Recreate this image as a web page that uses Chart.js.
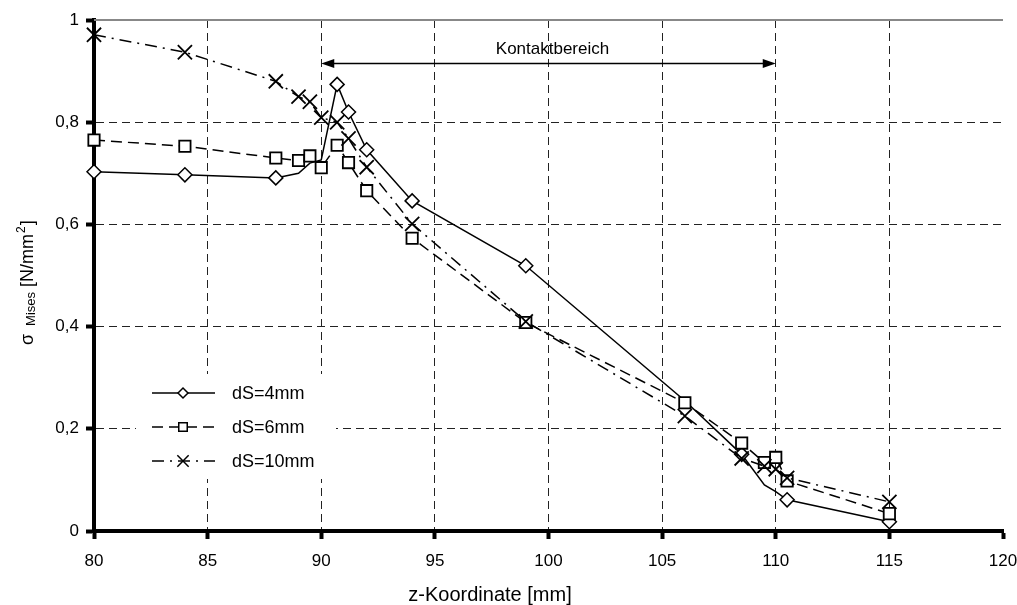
<!DOCTYPE html>
<html>
<head>
<meta charset="utf-8">
<script src="https://cdn.jsdelivr.net/npm/chart.js@4.4.1/dist/chart.umd.min.js"></script>
<style>
html, body { margin: 0; padding: 0; background: #fff; }
</style>
</head>
<body>
<canvas id="chart" width="1017" height="605"></canvas>
<script>
'use strict';

const FONT = '"Liberation Sans", Arial, sans-serif';

// data
const seriesNames = ['dS=4mm', 'dS=6mm', 'dS=10mm'];
const zValues = [80, 84, 88, 89, 89.5, 90, 90.7, 91.2, 92, 94, 99, 106, 108.5, 109.5, 110, 110.5, 115];

const ds4Values = [0.703, 0.697, 0.691, 0.700, 0.720, 0.726, 0.874, 0.820, 0.746, 0.646, 0.519, 0.255, 0.150, 0.090, 0.077, 0.061, 0.018];
const ds4Marked = [1, 1, 1, 0, 0, 0, 1, 1, 1, 1, 1, 0, 1, 0, 0, 1, 1];

const ds6Values = [0.765, 0.753, 0.730, 0.725, 0.734, 0.711, 0.755, 0.721, 0.666, 0.573, 0.408, 0.251, 0.172, 0.134, 0.144, 0.098, 0.034];

const ds10Values = [0.971, 0.937, 0.880, 0.850, 0.840, 0.809, 0.800, 0.768, 0.712, 0.601, 0.410, 0.225, 0.142, 0.127, 0.121, 0.104, 0.057];

const yTickLabels = ['0', '0,2', '0,4', '0,6', '0,8', '1'];

const contactRange = [90, 110];
const contactLevel = 0.916;
const contactText = 'Kontaktbereich';


function toPoints(values) {
  return values.map((v, i) => ({ x: zValues[i], y: v }));
}

const lineStyles = [
  { dash: [], pointStyle: 'rectRot', radius: 7 },
  { dash: [11, 6], pointStyle: 'rect', radius: 8 },
  { dash: [12, 6, 2, 6], pointStyle: 'crossRot', radius: 10 }
];

const datasets = [
  {
    label: seriesNames[0],
    data: toPoints(ds4Values),
    borderColor: '#000',
    borderWidth: 1.5,
    borderDash: lineStyles[0].dash,
    pointStyle: lineStyles[0].pointStyle,
    pointRadius: ds4Marked.map(m => m ? lineStyles[0].radius : 0),
    pointBackgroundColor: '#fff',
    pointBorderColor: '#000',
    pointBorderWidth: 1.5,
    tension: 0,
    clip: false,
    order: 3
  },
  {
    label: seriesNames[1],
    data: toPoints(ds6Values),
    borderColor: '#000',
    borderWidth: 1.5,
    borderDash: lineStyles[1].dash,
    pointStyle: lineStyles[1].pointStyle,
    pointRadius: lineStyles[1].radius,
    pointBackgroundColor: '#fff',
    pointBorderColor: '#000',
    pointBorderWidth: 1.8,
    tension: 0,
    clip: false,
    order: 2
  },
  {
    label: seriesNames[2],
    data: toPoints(ds10Values),
    borderColor: '#000',
    borderWidth: 1.5,
    borderDash: lineStyles[2].dash,
    pointStyle: lineStyles[2].pointStyle,
    pointRadius: lineStyles[2].radius,
    pointBackgroundColor: '#fff',
    pointBorderColor: '#000',
    pointBorderWidth: 1.8,
    tension: 0,
    clip: false,
    order: 1
  }
];


// white page, solid top line, arrow + text, legend, axis titles
const decorPlugin = {
  id: 'decor',
  beforeDraw(chart) {
    const ctx = chart.ctx;
    ctx.save();
    ctx.fillStyle = '#fff';
    ctx.fillRect(0, 0, chart.width, chart.height);
    ctx.restore();
  },
  beforeDatasetsDraw(chart) {
    const ctx = chart.ctx;
    const a = chart.chartArea;
    const y1 = chart.scales.y.getPixelForValue(1);
    ctx.save();
    ctx.strokeStyle = '#888';
    ctx.lineWidth = 2;
    ctx.beginPath();
    ctx.moveTo(a.left, y1);
    ctx.lineTo(a.right, y1);
    ctx.stroke();
    ctx.restore();
  },
  afterDraw(chart) {
    const ctx = chart.ctx;
    const xs = chart.scales.x;
    const ys = chart.scales.y;

    // contact range arrow
    const xa = xs.getPixelForValue(contactRange[0]);
    const xb = xs.getPixelForValue(contactRange[1]);
    const ya = Math.round(ys.getPixelForValue(contactLevel)) + 0.5;
    ctx.save();
    ctx.strokeStyle = '#000';
    ctx.fillStyle = '#000';
    ctx.lineWidth = 1.5;
    ctx.beginPath();
    ctx.moveTo(xa + 8, ya);
    ctx.lineTo(xb - 8, ya);
    ctx.stroke();
    ctx.beginPath();
    ctx.moveTo(xa, ya); ctx.lineTo(xa + 13, ya - 4.5); ctx.lineTo(xa + 13, ya + 4.5); ctx.closePath();
    ctx.fill();
    ctx.beginPath();
    ctx.moveTo(xb, ya); ctx.lineTo(xb - 13, ya - 4.5); ctx.lineTo(xb - 13, ya + 4.5); ctx.closePath();
    ctx.fill();
    ctx.font = '17px ' + FONT;
    ctx.textAlign = 'center';
    ctx.textBaseline = 'alphabetic';
    ctx.fillText(contactText, (xa + xb) / 2 + 4, ya - 10);
    ctx.restore();

    // legend
    ctx.save();
    ctx.fillStyle = '#fff';
    ctx.fillRect(136, 374, 200, 105);
    const rows = [393, 427, 461];
    datasets.forEach((d, i) => {
      const yy = rows[i];
      ctx.strokeStyle = '#000';
      ctx.lineWidth = 1.5;
      ctx.setLineDash(lineStyles[i].dash);
      ctx.beginPath();
      ctx.moveTo(152, yy);
      ctx.lineTo(215, yy);
      ctx.stroke();
      ctx.setLineDash([]);
      ctx.fillStyle = '#fff';
      ctx.lineWidth = 1.5;
      Chart.helpers.drawPoint(ctx, {
        pointStyle: lineStyles[i].pointStyle,
        radius: lineStyles[i].radius - 2,
        rotation: 0,
        borderWidth: 1.5
      }, 183, yy);
      ctx.fillStyle = '#000';
      ctx.font = '18px ' + FONT;
      ctx.textAlign = 'left';
      ctx.textBaseline = 'middle';
      ctx.fillText(d.label, 232, yy + 1);
    });
    ctx.restore();

    // x title
    ctx.save();
    ctx.fillStyle = '#000';
    ctx.font = '20px ' + FONT;
    ctx.textAlign = 'center';
    ctx.textBaseline = 'alphabetic';
    ctx.fillText('z-Koordinate [mm]', 490, 601);
    ctx.restore();

    // y title, with sub- and superscript
    ctx.save();
    ctx.fillStyle = '#000';
    ctx.translate(33, 345);
    ctx.rotate(-Math.PI / 2);
    ctx.textAlign = 'left';
    ctx.textBaseline = 'alphabetic';
    let p = 0;
    ctx.font = '18px ' + FONT;
    ctx.fillText('σ', p, 0);
    p += ctx.measureText('σ ').width + 3;
    ctx.font = '13px ' + FONT;
    ctx.fillText('Mises', p, 2);
    p += ctx.measureText('Mises').width;
    ctx.font = '18px ' + FONT;
    ctx.fillText(' [N/mm', p, 0);
    p += ctx.measureText(' [N/mm').width;
    ctx.font = '12px ' + FONT;
    ctx.fillText('2', p + 1, -8);
    p += ctx.measureText('2').width + 2;
    ctx.font = '18px ' + FONT;
    ctx.fillText(']', p, 0);
    ctx.restore();
  }
};


const chart = new Chart(document.getElementById('chart'), {
  type: 'line',
  data: { datasets: datasets },
  options: {
    responsive: false,
    animation: false,
    devicePixelRatio: 1,
    layout: { padding: { top: 20, right: 14, left: 0, bottom: 0 } },
    plugins: {
      legend: { display: false },
      tooltip: { enabled: false }
    },
    scales: {
      x: {
        type: 'linear',
        min: 80,
        max: 120,
        afterFit: s => { s.height = 74; s.paddingRight = 0; s.paddingLeft = 0; },
        ticks: {
          stepSize: 5,
          autoSkip: false,
          maxRotation: 0,
          color: '#000',
          font: { family: FONT, size: 17 },
          padding: 12
        },
        grid: {
          color: c => (c.tick && (c.tick.value === 80 || c.tick.value === 120)) ? 'rgba(0,0,0,0)' : '#222',
          lineWidth: 1,
          tickColor: '#000',
          tickWidth: 4,
          tickLength: 8
        },
        border: { color: '#000', width: 4, dash: [8, 5] }
      },
      y: {
        min: 0,
        max: 1,
        afterFit: s => { s.width = 94; },
        ticks: {
          stepSize: 0.2,
          color: '#000',
          font: { family: FONT, size: 17 },
          padding: 7,
          callback: (v, i) => yTickLabels[i]
        },
        grid: {
          color: c => (c.tick && (c.tick.value === 0 || c.tick.value === 1)) ? 'rgba(0,0,0,0)' : '#222',
          lineWidth: 1,
          tickColor: '#000',
          tickWidth: 4,
          tickLength: 8
        },
        border: { color: '#000', width: 4, dash: [8, 5] }
      }
    }
  },
  plugins: [decorPlugin]
});
</script>
</body>
</html>
